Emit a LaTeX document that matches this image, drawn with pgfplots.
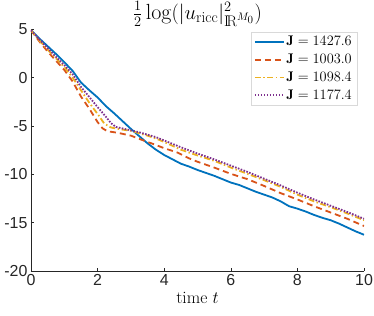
\documentclass[border=0pt]{standalone}
\usepackage{pgfplots}
\pgfplotsset{compat=1.18}
\usepackage{fontspec}
\newfontfamily\arialf{Liberation Sans}
\definecolor{mblue}{rgb}{0,0.447,0.741}
\definecolor{mred}{rgb}{0.850,0.325,0.098}
\definecolor{myellow}{rgb}{0.929,0.694,0.125}
\definecolor{mpurple}{rgb}{0.494,0.184,0.556}
\begin{document}
\begin{tikzpicture}
\useasboundingbox (-31bp,-45bp) rectangle (343bp,271bp);
\begin{axis}[
  at={(0,0)}, anchor=south west,
  scale only axis, width=333bp, height=241.7bp,
  xmin=0, xmax=10, ymin=-20, ymax=5,
  axis x line*=bottom, axis y line*=left,
  axis line style={-, black!85, line width=0.5bp},
  xtick={0,2,4,6,8,10}, xticklabels={0,2,4,6,8,10},
  ytick={-20,-15,-10,-5,0,5}, yticklabels={-20,-15,-10,-5,0,5},
  tick align=inside, major tick length=3.3bp,
  tick style={black!85, line width=0.5bp},
  ticklabel style={font=\arialf\fontsize{16}{18}\selectfont, text=black!85},
  title={\fontsize{22}{26}\selectfont$\frac{1}{2}\log(|u_{\mathrm{ricc}}|^2_{\mathrm{I\!R}^{M_0}})$},
  title style={at={(0.5,1)}, anchor=south, yshift=-6bp, inner sep=2bp},
  xlabel={time $t$},
  xlabel style={font=\fontsize{17.5}{20}\selectfont},
  legend style={at={(1,1)}, anchor=north east, xshift=-7bp, yshift=-2.7bp,
    draw=black!15, fill=white, line width=0.5bp,
    font=\fontsize{14}{16}\selectfont, row sep=2.8bp, cells={anchor=west}},
  legend image code/.code={\draw[#1] (0bp,0bp) -- (29bp,0bp);},
]
\addplot[mblue, line width=1.8bp] coordinates {
(0,4.9) (0.25,4.05) (0.5,3.25) (0.75,2.45) (1.0,1.6) (1.25,0.7) (1.5,-0.5)
(1.75,-1.3) (2.0,-2.05) (2.25,-2.95) (2.5,-3.7) (2.75,-4.5) (3.0,-5.3)
(3.25,-6.05) (3.5,-6.8) (3.75,-7.45) (4.0,-8.0) (4.25,-8.45) (4.5,-8.9)
(4.75,-9.2) (5.0,-9.55) (5.25,-9.85) (5.5,-10.15) (5.75,-10.5) (6.0,-10.85)
(6.25,-11.1) (6.5,-11.45) (6.75,-11.8) (7.0,-12.1) (7.25,-12.4) (7.5,-12.8)
(7.75,-13.3) (8.0,-13.55) (8.25,-13.85) (8.5,-14.2) (8.75,-14.5) (9.0,-14.75)
(9.25,-15.1) (9.5,-15.5) (9.75,-15.9) (10.0,-16.25)
};
\addlegendentry{$\mathbf{J} = 1427.6$}
\addplot[mred, line width=1.8bp, dash pattern=on 6bp off 4bp] coordinates {
(0,4.9) (0.25,3.75) (0.5,2.7) (0.75,1.75) (1.0,0.8) (1.25,-0.4) (1.5,-1.95)
(1.75,-3.2) (2.0,-4.6) (2.15,-5.25) (2.3,-5.55) (2.6,-5.7) (3.0,-6.0)
(3.3,-6.4) (3.7,-6.9) (4.0,-7.3) (4.4,-7.75) (4.75,-8.35) (5.0,-8.7)
(5.5,-9.3) (6.0,-9.95) (6.5,-10.5) (7.0,-11.2) (7.5,-11.95) (8.0,-12.6)
(8.5,-13.3) (9.0,-13.95) (9.5,-14.6) (10.0,-15.35)
};
\addlegendentry{$\mathbf{J} = 1003.0$}
\addplot[myellow, line width=1.8bp, dash pattern=on 6bp off 2.5bp on 1.5bp off 2.5bp] coordinates {
(0,4.9) (0.25,3.85) (0.5,2.9) (0.75,2.0) (1.0,1.1) (1.25,0.0) (1.5,-1.3)
(1.75,-2.6) (2.0,-3.75) (2.2,-4.75) (2.4,-5.15) (2.6,-5.3) (3.0,-5.5)
(3.25,-5.75) (3.5,-6.0) (3.75,-6.3) (4.0,-6.65) (4.5,-7.45) (5.0,-8.05)
(5.5,-8.6) (6.0,-9.3) (6.5,-9.95) (7.0,-10.6) (7.5,-11.3) (8.0,-12.1)
(8.5,-12.8) (9.0,-13.4) (9.5,-14.05) (10.0,-14.75)
};
\addlegendentry{$\mathbf{J} = 1098.4$}
\addplot[mpurple, line width=1.8bp, dash pattern=on 1.6bp off 1.4bp] coordinates {
(0,4.9) (0.25,3.95) (0.5,3.05) (0.75,2.15) (1.0,1.3) (1.25,0.35) (1.5,-0.95)
(1.75,-2.0) (2.0,-3.05) (2.25,-4.05) (2.4,-4.7) (2.55,-5.1) (2.8,-5.3)
(3.0,-5.45) (3.25,-5.65) (3.5,-5.9) (3.75,-6.15) (4.0,-6.5) (4.5,-7.2)
(5.0,-7.85) (5.5,-8.45) (6.0,-9.1) (6.5,-9.75) (7.0,-10.45) (7.5,-11.15)
(8.0,-11.9) (8.5,-12.6) (9.0,-13.25) (9.5,-13.9) (10.0,-14.6)
};
\addlegendentry{$\mathbf{J} = 1177.4$}
\end{axis}
\end{tikzpicture}
\end{document}
